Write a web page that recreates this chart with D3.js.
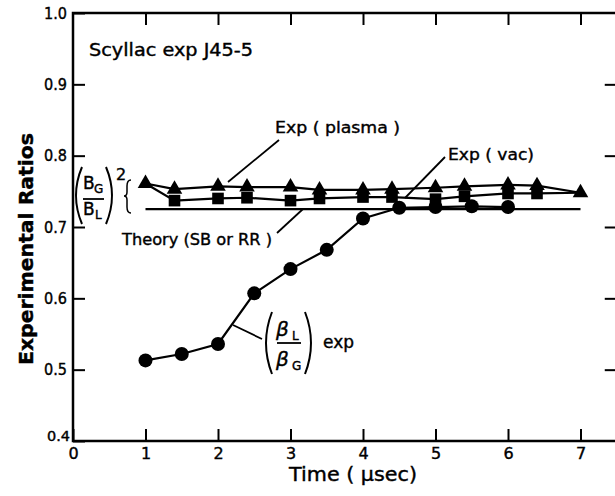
<!DOCTYPE html>
<html>
<head>
<meta charset="utf-8">
<script src="https://cdn.jsdelivr.net/npm/d3@7"></script>
<style>
  body { margin: 0; background: #fff; }
  text { font-family: "DejaVu Sans", sans-serif; fill: #000; stroke: #000; stroke-width: 0.4px; }
</style>
</head>
<body>
<div id="chart"></div>
<script>
var svgWidth = 615;
var svgHeight = 496;

// values
var xTicks = [0, 1, 2, 3, 4, 5, 6, 7];
var yTicks = [0.4, 0.5, 0.6, 0.7, 0.8, 0.9, 1.0];
var rightTicks = [0.5, 0.6, 0.7, 0.8, 0.9];

// Exp (plasma), triangles
var plasmaTimes = [1, 1.4, 2, 2.4, 3, 3.4, 4, 4.4, 5, 5.4, 6, 6.4, 7];
var plasmaValues = [0.761, 0.753, 0.757, 0.756, 0.756, 0.752, 0.752, 0.753, 0.755, 0.757, 0.759, 0.758, 0.748];

// Exp (vac), squares - line starts and ends on the triangle points
var vacTimes = [1, 1.4, 2, 2.4, 3, 3.4, 4, 4.4, 5, 5.4, 6, 6.4, 7];
var vacValues = [0.761, 0.737, 0.740, 0.741, 0.737, 0.740, 0.742, 0.742, 0.739, 0.743, 0.747, 0.747, 0.748];

// (beta_L / beta_G) exp, circles
var betaTimes = [1, 1.5, 2, 2.5, 3, 3.5, 4, 4.5, 5, 5.5, 6];
var betaValues = [0.513, 0.522, 0.536, 0.607, 0.641, 0.668, 0.712, 0.727, 0.728, 0.729, 0.728];

// Theory (SB or RR)
var theoryTimes = [1, 7];
var theoryValues = [0.725, 0.725];

function zip(ts, vs) {
  return ts.map(function(t, i) { return { t: t, v: vs[i] }; });
}

var svg = d3.select("#chart")
  .append("svg")
  .attr("width", svgWidth)
  .attr("height", svgHeight);

var x = d3.scaleLinear().domain([0, 7.5]).range([73, 616.75]);
var y = d3.scaleLinear().domain([0.4, 1.0]).range([441, 13]);

// frame
svg.append("path")
  .attr("d", "M" + x(7.5) + "," + y(1) + "H" + x(0) + "V" + y(0.4) + "H" + x(7.5))
  .attr("fill", "none")
  .attr("stroke", "#000")
  .attr("stroke-width", 2.5);

// axes (ticks point inward)
var bottomAxis = svg.append("g")
  .attr("transform", `translate(0, ${y(0.4)})`)
  .call(d3.axisBottom(x).tickValues(xTicks).tickSize(-12).tickPadding(7).tickSizeOuter(0).tickFormat(d3.format("d")));

var leftAxis = svg.append("g")
  .attr("transform", `translate(${x(0)}, 0)`)
  .call(d3.axisLeft(y).tickValues(yTicks).tickSize(-12).tickPadding(6).tickSizeOuter(0).tickFormat(d3.format(".1f")));

var topAxis = svg.append("g")
  .attr("transform", `translate(0, ${y(1)})`)
  .call(d3.axisTop(x).tickValues(xTicks.slice(1)).tickSize(-12).tickSizeOuter(0).tickFormat(""));

var rightAxis = svg.append("g")
  .attr("transform", `translate(${x(7.5)}, 0)`)
  .call(d3.axisRight(y).tickValues(rightTicks).tickSize(-12).tickSizeOuter(0).tickFormat(""));

[bottomAxis, leftAxis, topAxis, rightAxis].forEach(function(g) {
  g.select(".domain").remove();
  g.selectAll(".tick line").attr("stroke", "#000").attr("stroke-width", 2);
  g.selectAll(".tick text")
    .style("font-family", "DejaVu Sans, sans-serif")
    .style("font-size", "16px")
    .attr("fill", "#000");
});

leftAxis.selectAll(".tick text")
  .attr("textLength", 23)
  .attr("lengthAdjust", "spacingAndGlyphs")
  .filter(function(d) { return d === 0.4; })
  .attr("x", -3)
  .attr("dy", "-0.05em")
  .style("font-size", "14px");

// data lines
var line = d3.line().x(d => x(d.t)).y(d => y(d.v));

var plasma = zip(plasmaTimes, plasmaValues);
var vac = zip(vacTimes, vacValues);
var beta = zip(betaTimes, betaValues);
var theory = zip(theoryTimes, theoryValues);

[theory, beta, vac, plasma].forEach(function(series) {
  svg.append("path")
    .datum(series)
    .attr("d", line)
    .attr("fill", "none")
    .attr("stroke", "#000")
    .attr("stroke-width", 2.2);
});

// markers
svg.selectAll("circle.beta")
  .data(beta)
  .enter()
  .append("circle")
  .attr("cx", d => x(d.t))
  .attr("cy", d => y(d.v))
  .attr("r", 7)
  .attr("fill", "#000");

svg.selectAll("path.vac")
  .data(vac.slice(1, -1))
  .enter()
  .append("path")
  .attr("transform", d => `translate(${x(d.t)}, ${y(d.v)})`)
  .attr("d", d3.symbol().type(d3.symbolSquare).size(135))
  .attr("fill", "#000");

svg.selectAll("path.plasma")
  .data(plasma)
  .enter()
  .append("path")
  .attr("transform", d => `translate(${x(d.t)}, ${y(d.v)})`)
  .attr("d", d3.symbol().type(d3.symbolTriangle).size(105))
  .attr("fill", "#000");

// leader lines for the labels
var leaders = [
  [[279, 140], [228, 182]],
  [[445, 157], [405, 198]],
  [[277, 233], [303, 209]],
  [[233, 325], [262, 339]]
];
leaders.forEach(function(l) {
  svg.append("line")
    .attr("x1", l[0][0]).attr("y1", l[0][1])
    .attr("x2", l[1][0]).attr("y2", l[1][1])
    .attr("stroke", "#000")
    .attr("stroke-width", 1.8);
});

function label(txt, px, py, size, len) {
  var t = svg.append("text")
    .attr("x", px)
    .attr("y", py)
    .style("font-size", size + "px")
    .text(txt);
  if (len) t.attr("textLength", len).attr("lengthAdjust", "spacingAndGlyphs");
  return t;
}

label("Scyllac  exp  J45-5", 89, 56, 17, 164);
label("Exp ( plasma )", 275, 133, 16, 125);
label("Exp ( vac)", 448, 160, 16, 86);
label("Theory (SB or RR )", 122, 245, 16, 150);

// (B_G / B_L)^2 bracket label
var paren = function(x0, y0, y1, bulge) {
  return "M" + x0 + "," + y0 + "Q" + (x0 + bulge) + "," + ((y0 + y1) / 2) + " " + x0 + "," + y1;
};
svg.append("path").attr("d", paren(82, 167, 224, -12)).attr("fill", "none").attr("stroke", "#000").attr("stroke-width", 2);
svg.append("path").attr("d", paren(106, 167, 224, 12)).attr("fill", "none").attr("stroke", "#000").attr("stroke-width", 2);
label("B", 83, 189, 17);
label("G", 94, 193, 12);
svg.append("line").attr("x1", 83).attr("x2", 104).attr("y1", 199).attr("y2", 199).attr("stroke", "#000").attr("stroke-width", 1.8);
label("B", 83, 215, 17);
label("L", 95, 219, 12);
label("2", 116, 180, 16);
svg.append("path")
  .attr("d", "M131,180 Q127,180 127,186 L127,192 Q127,196 124,196 Q127,196 127,200 L127,207 Q127,213 131,213")
  .attr("fill", "none")
  .attr("stroke", "#000")
  .attr("stroke-width", 1.5);

// (beta_L / beta_G) exp label
svg.append("path").attr("d", paren(272, 312, 374, -12)).attr("fill", "none").attr("stroke", "#000").attr("stroke-width", 2);
svg.append("path").attr("d", paren(305, 312, 374, 12)).attr("fill", "none").attr("stroke", "#000").attr("stroke-width", 2);
label("β", 276, 336, 20).style("font-style", "italic");
label("L", 292, 340, 12);
svg.append("line").attr("x1", 277).attr("x2", 301).attr("y1", 343).attr("y2", 343).attr("stroke", "#000").attr("stroke-width", 1.8);
label("β", 276, 366, 20).style("font-style", "italic");
label("G", 292, 370, 12);
label("exp", 323, 348, 17);

// axis titles
svg.append("text")
  .attr("transform", "translate(33, 249) rotate(-90)")
  .attr("text-anchor", "middle")
  .attr("textLength", 232)
  .attr("lengthAdjust", "spacingAndGlyphs")
  .style("font-size", "19px")
  .style("font-weight", "bold")
  .text("Experimental  Ratios");

svg.append("text")
  .attr("x", 353)
  .attr("y", 481)
  .attr("text-anchor", "middle")
  .attr("textLength", 128)
  .attr("lengthAdjust", "spacingAndGlyphs")
  .style("font-size", "19px")
  .text("Time ( μsec)");
</script>
</body>
</html>
